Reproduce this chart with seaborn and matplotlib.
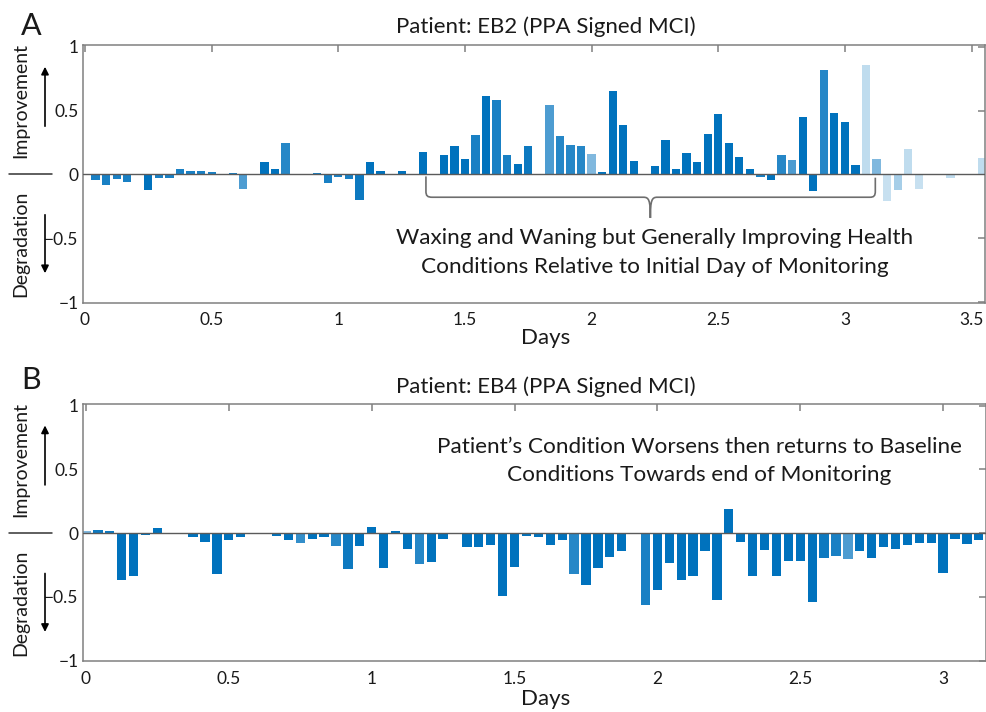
import numpy as np
import pandas as pd
import matplotlib
matplotlib.use("Agg")
import matplotlib.pyplot as plt
import seaborn as sns
from matplotlib.path import Path
from matplotlib.patches import PathPatch, FancyArrowPatch
from matplotlib.lines import Line2D

# ---------------- data (hourly scores, relative to first day) ----------------
eb2_scores = [
    -0.005, -0.047, -0.086, -0.035, -0.062, 0.0, -0.12, -0.025, -0.025, 0.044,
    0.03, 0.03, 0.02, -0.005, 0.01, -0.117, 0.005, 0.096, 0.045, 0.245,
    0.005, 0.005, 0.01, -0.065, -0.02, -0.035, -0.2, 0.1, 0.025, 0.0,
    0.025, 0.0, 0.175, -0.005, 0.155, 0.22, 0.12, 0.31, 0.615, 0.58,
    0.154, 0.083, 0.224, 0.0, 0.54, 0.305, 0.232, 0.224, 0.16, 0.02,
    0.656, 0.385, 0.107, 0.0, 0.065, 0.27, 0.04, 0.17, 0.1, 0.318,
    0.477, 0.25, 0.133, 0.04, -0.016, -0.04, 0.154, 0.11, 0.45, -0.13,
    0.818, 0.48, 0.41, 0.078, 0.857, 0.125, -0.21, -0.125, 0.203, -0.112,
    0.0, 0.0, -0.029, 0.0, 0.0, 0.128,
]
eb2_shade = [
    0.5, 0.9, 0.9, 0.9, 0.9, 1, 1, 0.9, 0.9, 0.9,
    0.9, 0.9, 0.9, 0.9, 0.9, 0.7, 0.9, 1, 1, 0.85,
    0.9, 0.9, 0.9, 0.9, 0.9, 0.9, 0.95, 1, 1, 1,
    1, 1, 1, 1, 1, 1, 1, 0.9, 1, 0.9,
    0.9, 1, 0.95, 1, 0.7, 0.85, 0.85, 0.85, 0.5, 1,
    1, 1, 1, 1, 1, 1, 1, 1, 1, 1,
    1, 1, 1, 1, 0.9, 1, 0.85, 0.7, 1, 1,
    0.85, 1, 1, 1, 0.25, 0.5, 0.22, 0.35, 0.25, 0.22,
    1, 1, 0.25, 1, 1, 0.25,
]
eb4_scores = [
    0.02, 0.026, 0.018, -0.368, -0.337, -0.016, 0.041, 0.0, 0.005, -0.034,
    -0.067, -0.324, -0.054, -0.031, 0.0, 0.0, -0.023, -0.057, -0.075, -0.049,
    -0.031, -0.1, -0.285, -0.104, 0.049, -0.275, 0.013, -0.122, -0.24, -0.223,
    -0.044, 0.0, -0.111, -0.111, -0.09, -0.497, -0.267, -0.026, -0.031, -0.096,
    -0.057, -0.321, -0.407, -0.272, -0.184, -0.14, -0.01, -0.562, -0.443, -0.238,
    -0.37, -0.334, -0.137, -0.523, 0.187, -0.067, -0.339, -0.132, -0.337, -0.218,
    -0.215, -0.541, -0.197, -0.176, -0.199, -0.142, -0.192, -0.111, -0.127, -0.096,
    -0.08, -0.075, -0.316, -0.049, -0.083, -0.057,
]
eb4_shade = [
    0.5, 0.95, 0.95, 1, 1, 1, 1, 1, 1, 1,
    1, 1, 1, 1, 1, 1, 1, 1, 0.8, 1,
    1, 0.85, 0.95, 1, 1, 1, 1, 1, 0.85, 1,
    1, 1, 1, 1, 1, 1, 1, 1, 1, 1,
    1, 0.85, 1, 1, 1, 1, 1, 0.9, 1, 1,
    1, 1, 1, 1, 1, 1, 1, 1, 1, 1,
    1, 1, 0.95, 0.9, 0.7, 1, 1, 1, 1, 1,
    1, 1, 1, 1, 1, 1,
]
xticks_a = [0, 0.5, 1, 1.5, 2, 2.5, 3, 3.5]
xticks_b = [0, 0.5, 1, 1.5, 2, 2.5, 3]
yticks = [-1, -0.5, 0, 0.5, 1]
ytick_labels = ["\u22121", "\u22120.5", "0", "0.5", "1"]
title_a = "Patient: EB2 (PPA Signed MCI)"
title_b = "Patient: EB4 (PPA Signed MCI)"
note_a = ["Waxing and Waning but Generally Improving Health",
          "Conditions Relative to Initial Day of Monitoring"]
note_b = ["Patient\u2019s Condition Worsens then returns to Baseline",
          "Conditions Towards end of Monitoring"]

# ---------------- style ----------------
BASE = np.array([0.0, 0.447, 0.741])
SPINE = "#808080"
TXT = "#1a1a1a"
FONT = ["Lato", "DejaVu Sans"]

sns.set_style("white")
plt.rcParams["font.family"] = FONT

W, H = 986, 712
fig = plt.figure(figsize=(W / 100, H / 100), dpi=100)


def fx(x):
    return x / W


def fy(y):
    return 1 - y / H


def shade_color(s):
    return tuple(1 - s * (1 - BASE))


def panel(ax, scores, shades, xlim, xticks):
    df = pd.DataFrame({"day": np.arange(len(scores)) / 24.0, "score": scores})
    sns.barplot(data=df, x="day", y="score", native_scale=True, width=0.78,
                color=shade_color(1), linewidth=0, edgecolor="none",
                errorbar=None, ax=ax, zorder=2)
    for p, s in zip(ax.patches, shades):
        p.set_facecolor(shade_color(s))
        p.set_edgecolor("none")
    ax.axhline(0, color="#5a5a5a", lw=1.0, zorder=3)
    ax.set_xlim(*xlim)
    ax.set_ylim(-1.003, 1.013)
    ax.set_xticks(xticks)
    ax.set_xticklabels([f"{t:g}" for t in xticks])
    ax.set_yticks(yticks)
    ax.set_yticklabels(ytick_labels)
    ax.set_xlabel("")
    ax.set_ylabel("")
    for sp in ax.spines.values():
        sp.set_visible(True)
        sp.set_color(SPINE)
        sp.set_linewidth(1.1)
    ax.tick_params(axis="both", direction="in", length=5, width=1.1,
                   color=SPINE, labelsize=12.5, labelcolor=TXT,
                   top=True, right=True)
    ax.tick_params(axis="x", pad=7)
    ax.tick_params(axis="y", pad=3)
    ax.set_facecolor("white")


axA = fig.add_axes([fx(82.7), fy(302.7), (985 - 82.7) / W, (302.7 - 45) / H])
axB = fig.add_axes([fx(82.7), fy(661), (986 - 82.7) / W, (661 - 404) / H])

panel(axA, eb2_scores, eb2_shade, (-0.009, 3.553), xticks_a)
panel(axB, eb4_scores, eb4_shade, (-0.0115, 3.150), xticks_b)

# titles / panel letters / axis labels
fig.text(fx(546), fy(33), title_a, ha="center", va="baseline", fontsize=16, color=TXT)
fig.text(fx(546), fy(393), title_b, ha="center", va="baseline", fontsize=16, color=TXT)
fig.text(fx(21), fy(35), "A", ha="left", va="baseline", fontsize=22, color=TXT)
fig.text(fx(21), fy(389), "B", ha="left", va="baseline", fontsize=22, color=TXT)
fig.text(fx(546), fy(344), "Days", ha="center", va="baseline", fontsize=16, color=TXT)
fig.text(fx(546), fy(705), "Days", ha="center", va="baseline", fontsize=16, color=TXT)

# annotations (one text per line so both baselines sit where they belong)
for line, base_y in zip(note_a, (244, 273)):
    fig.text(fx(655), fy(base_y), line, ha="center", va="baseline",
             fontsize=16.2, color=TXT)
for line, base_y in zip(note_b, (453, 481)):
    fig.text(fx(699), fy(base_y), line, ha="center", va="baseline",
             fontsize=16.2, color=TXT)

# curly brace under the improving stretch of panel A
verts = [
    (1.346, -0.015), (1.346, -0.13),
    (1.346, -0.168), (1.352, -0.178), (1.372, -0.178),
    (2.205, -0.178),
    (2.226, -0.178), (2.232, -0.20), (2.232, -0.34),
    (2.232, -0.20), (2.238, -0.178), (2.259, -0.178),
    (3.098, -0.178),
    (3.114, -0.178), (3.12, -0.168), (3.12, -0.13),
    (3.12, -0.025),
]
codes = [Path.MOVETO, Path.LINETO,
         Path.CURVE4, Path.CURVE4, Path.CURVE4,
         Path.LINETO,
         Path.CURVE4, Path.CURVE4, Path.CURVE4,
         Path.CURVE4, Path.CURVE4, Path.CURVE4,
         Path.LINETO,
         Path.CURVE4, Path.CURVE4, Path.CURVE4,
         Path.LINETO]
axA.add_patch(PathPatch(Path(verts, codes), facecolor="none",
                        edgecolor="#6e6e6e", lw=1.2, zorder=4, clip_on=False))

# side labels with arrows
for dy in (0, 358.7):
    fig.text(fx(21), fy(101 + dy), "Improvement", rotation=90, ha="center",
             va="center", fontsize=14, color=TXT)
    fig.text(fx(21), fy(244 + dy), "Degradation", rotation=90, ha="center",
             va="center", fontsize=14, color=TXT)
    fig.add_artist(FancyArrowPatch((fx(45), fy(129 + dy)), (fx(45), fy(64 + dy)),
                                   transform=fig.transFigure, arrowstyle="-|>",
                                   mutation_scale=11, lw=1.2, color="black"))
    fig.add_artist(FancyArrowPatch((fx(45), fy(212 + dy)), (fx(45), fy(276 + dy)),
                                   transform=fig.transFigure, arrowstyle="-|>",
                                   mutation_scale=11, lw=1.2, color="black"))
    fig.add_artist(Line2D([fx(9), fx(52)], [fy(174 + dy), fy(174 + dy)],
                          transform=fig.transFigure, color="#333333", lw=1.1))

fig.savefig("out.png", dpi=100, facecolor="white")
